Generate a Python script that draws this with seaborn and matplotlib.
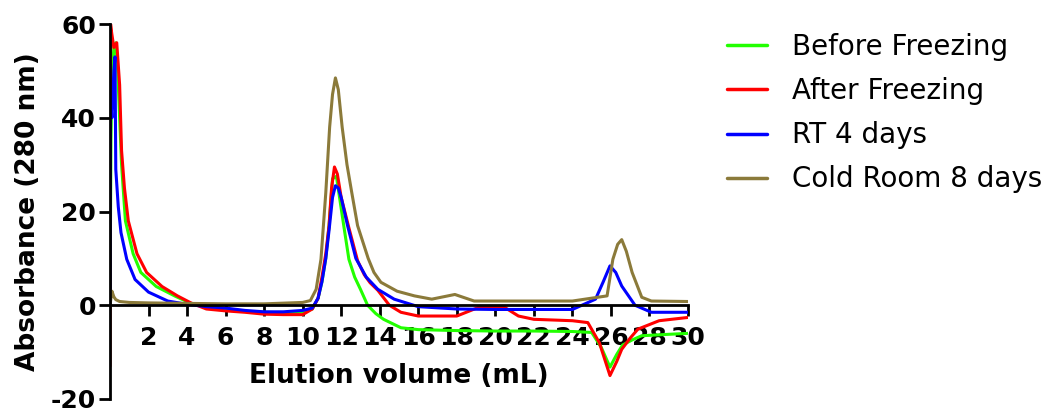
import pandas as pd
import matplotlib
matplotlib.use('Agg')
import matplotlib.pyplot as plt
import seaborn as sns

# values (elution volume in mL, absorbance at 280 nm)
samples = ['Before Freezing', 'After Freezing', 'RT 4 days', 'Cold Room 8 days']
colors = ['#22ff00', '#ff0000', '#0000ff', '#8b7a3a']

vol_before = [0, 0.05, 0.1, 0.2, 0.3, 0.4, 0.5, 0.6, 0.8, 1.2, 1.6, 2.4, 3.4, 4.2, 5, 6, 7, 8, 9, 10,
              10.5, 10.8, 11.0, 11.2, 11.37, 11.55, 11.75, 11.95, 12.15, 12.4, 12.7, 13.0, 13.37, 13.8,
              14.2, 15.1, 16, 18, 20, 22, 24, 25, 25.5, 25.95, 26.3, 26.6, 27.1, 27.6, 29, 30]
abs_before = [0, 35, 48, 55, 56, 50, 40, 30, 18, 11, 7, 4, 1.9, 0.4, -0.3, -0.8, -1.3, -1.5, -1.6, -1.4,
              -0.8, 1.5, 5, 10, 17, 27, 27.5, 22, 16.5, 9.8, 6, 3.4, 0, -1.8,
              -3, -4.8, -5.2, -5.4, -5.5, -5.5, -5.6, -5.8, -9, -13.2, -10.5, -8.5, -7.4, -6.5, -6.2, -6]

vol_after = [0, 0.03, 0.09, 0.2, 0.35, 0.5, 0.6, 0.75, 0.95, 1.4, 1.9, 2.7, 3.5, 4.2, 5, 6, 7, 8, 9, 10,
             10.5, 10.8, 11.0, 11.2, 11.37, 11.5, 11.65, 11.8, 12.0, 12.4, 12.85, 13.2, 13.5, 13.9,
             14.5, 15.1, 16, 18, 19.1, 20.5, 21.2, 22, 24, 24.8, 25.4, 25.95, 26.3, 26.56, 27.0,
             27.4, 28.5, 30]
abs_after = [-13, 60, 58, 55, 56, 47, 33, 25, 18, 11, 7, 4, 2, 0.5, -0.8, -1.2, -1.5, -1.9, -2, -2,
             -0.8, 1.5, 6, 11, 17, 25, 29.5, 28, 23, 16.5, 9.5, 6.5, 4.8, 3.2,
             0, -1.5, -2.3, -2.3, -0.5, -0.5, -2.3, -3, -3.3, -3.7, -8, -15, -12, -9.4, -7,
             -5.1, -3.3, -2.6]

vol_rt = [0, 0.03, 0.1, 0.2, 0.26, 0.3, 0.43, 0.57, 0.87, 1.3, 2.0, 3.0, 4.0, 5, 6, 7, 8, 9, 10, 10.5,
          10.8, 11.0, 11.2, 11.37, 11.55, 11.7, 11.85, 12.0, 12.33, 12.76, 13.3, 13.9, 14.75, 16, 18,
          20, 22, 24, 25.2, 25.6, 25.95, 26.25, 26.56, 27.25, 28.1, 30]
abs_rt = [0, 44, 40, 50, 53, 29, 21, 15.5, 9.8, 5.5, 2.8, 0.9, 0.2, -0.3, -0.6, -1.1, -1.4, -1.4, -1.1, -0.6,
          1.5, 5, 10, 16, 23, 25.5, 25, 23, 17, 10, 6, 3.4, 1.3, -0.3, -0.8,
          -0.9, -0.9, -0.9, 1.3, 5, 8.4, 7, 4.1, 0, -1.5, -1.5]

vol_cold = [0, 0.05, 0.1, 0.2, 0.3, 0.5, 1, 2, 4, 6, 8, 10, 10.4, 10.7, 10.95, 11.2, 11.4, 11.55, 11.7,
            11.85, 12.05, 12.3, 12.55, 12.85, 13.4, 13.7, 14.06, 14.9, 15.8, 16.7, 17.9, 18.9, 20, 22,
            24, 25.8, 26.1, 26.35, 26.56, 26.8, 27.1, 27.6, 28.1, 30]
abs_cold = [0, 1.5, 3, 1.8, 1.2, 0.8, 0.6, 0.5, 0.4, 0.3, 0.3, 0.6, 1, 3.4, 9.8, 24, 38, 45, 48.5,
            46, 38, 30, 24, 17, 10, 7, 4.9, 3, 2, 1.3, 2.3, 0.9, 0.9, 0.9,
            0.9, 2, 9.8, 13, 14, 11.5, 7, 1.7, 0.9, 0.8]

xticks = list(range(2, 31, 2))
yticks = [-20, 0, 20, 40, 60]

frames = []
for name, vol, ab in zip(samples, [vol_before, vol_after, vol_rt, vol_cold],
                         [abs_before, abs_after, abs_rt, abs_cold]):
    frames.append(pd.DataFrame({'volume': vol, 'absorbance': ab, 'sample': name}))
df = pd.concat(frames, ignore_index=True)

sns.set_style('ticks')
plt.rcParams['font.family'] = ['DejaVu Sans']
plt.rcParams['axes.unicode_minus'] = False
plt.rcParams['text.color'] = 'black'
plt.rcParams['axes.labelcolor'] = 'black'

fig = plt.figure(figsize=(10.53, 4.08), dpi=100)
ax = fig.add_axes([110 / 1053, 1 - 399 / 408, (688 - 110) / 1053, (399 - 24) / 408])

sns.lineplot(data=df, x='volume', y='absorbance', hue='sample', hue_order=samples,
             palette=colors, sort=False, estimator=None, linewidth=2.2, ax=ax)

ax.set_xlim(0, 30)
ax.set_ylim(-20, 60)
ax.set_xticks(xticks)
ax.set_yticks(yticks)

for side in ['top', 'right']:
    ax.spines[side].set_visible(False)
for side in ['left', 'bottom']:
    ax.spines[side].set_linewidth(2)
    ax.spines[side].set_color('black')
ax.spines['bottom'].set_position(('data', 0))

ax.tick_params(axis='both', width=2, length=8, labelsize=18, direction='out',
               color='black', labelcolor='black')
ax.tick_params(axis='x', pad=7)
ax.tick_params(axis='y', pad=2)
for lbl in ax.get_xticklabels() + ax.get_yticklabels():
    lbl.set_fontweight('bold')

ax.set_xlabel('Elution volume (mL)', fontsize=19, fontweight='bold')
ax.set_ylabel('Absorbance (280 nm)', fontsize=19, fontweight='bold')
ax.xaxis.set_label_coords(0.5, 0.095)
ax.yaxis.set_label_coords(-0.12, 0.5)

handles, labels = ax.get_legend_handles_labels()
ax.get_legend().remove()
leg = fig.legend(handles, labels, loc='upper left', bbox_to_anchor=(727 / 1053, 1 - 33 / 408),
                 frameon=False, fontsize=20, handlelength=1.45, handletextpad=0.9,
                 labelspacing=0.58, borderpad=0, borderaxespad=0)
for line in leg.get_lines():
    line.set_linewidth(2.5)
for txt in leg.get_texts():
    txt.set_color('black')

fig.savefig('out.png', dpi=100)
